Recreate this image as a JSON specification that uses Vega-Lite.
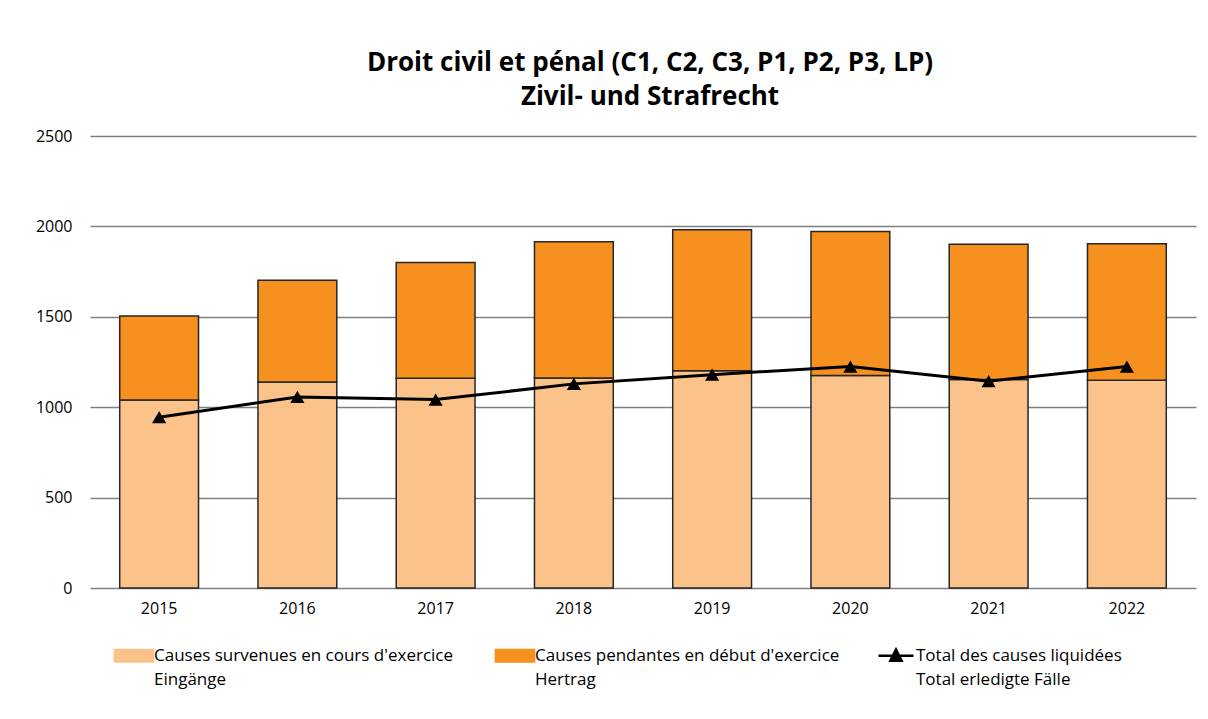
{
  "$schema": "https://vega.github.io/schema/vega-lite/v6.json",
  "width": 1106,
  "height": 452,
  "autosize": {"type": "none"},
  "padding": {"left": 90, "top": 136, "right": 12, "bottom": 131},
  "background": "white",
  "title": {
    "text": ["Droit civil et pénal (C1, C2, C3, P1, P2, P3, LP)", "Zivil- und Strafrecht"],
    "font": "Open Sans",
    "fontSize": 26,
    "fontWeight": "bold",
    "color": "black",
    "anchor": "middle",
    "offset": 18,
    "lineHeight": 34,
    "dx": 7
  },
  "datasets": {
    "bars": [
      {"year": "2015", "series": "Causes survenues en cours d'exercice|Eingänge", "idx": 1, "value": 1040},
      {"year": "2015", "series": "Causes pendantes en début d'exercice|Hertrag", "idx": 2, "value": 464},
      {"year": "2016", "series": "Causes survenues en cours d'exercice|Eingänge", "idx": 1, "value": 1140},
      {"year": "2016", "series": "Causes pendantes en début d'exercice|Hertrag", "idx": 2, "value": 562},
      {"year": "2017", "series": "Causes survenues en cours d'exercice|Eingänge", "idx": 1, "value": 1160},
      {"year": "2017", "series": "Causes pendantes en début d'exercice|Hertrag", "idx": 2, "value": 641},
      {"year": "2018", "series": "Causes survenues en cours d'exercice|Eingänge", "idx": 1, "value": 1162},
      {"year": "2018", "series": "Causes pendantes en début d'exercice|Hertrag", "idx": 2, "value": 753},
      {"year": "2019", "series": "Causes survenues en cours d'exercice|Eingänge", "idx": 1, "value": 1201},
      {"year": "2019", "series": "Causes pendantes en début d'exercice|Hertrag", "idx": 2, "value": 781},
      {"year": "2020", "series": "Causes survenues en cours d'exercice|Eingänge", "idx": 1, "value": 1175},
      {"year": "2020", "series": "Causes pendantes en début d'exercice|Hertrag", "idx": 2, "value": 797},
      {"year": "2021", "series": "Causes survenues en cours d'exercice|Eingänge", "idx": 1, "value": 1153},
      {"year": "2021", "series": "Causes pendantes en début d'exercice|Hertrag", "idx": 2, "value": 748},
      {"year": "2022", "series": "Causes survenues en cours d'exercice|Eingänge", "idx": 1, "value": 1149},
      {"year": "2022", "series": "Causes pendantes en début d'exercice|Hertrag", "idx": 2, "value": 755}
    ],
    "line": [
      {"year": "2015", "series": "Total des causes liquidées|Total erledigte Fälle", "value": 945},
      {"year": "2016", "series": "Total des causes liquidées|Total erledigte Fälle", "value": 1057},
      {"year": "2017", "series": "Total des causes liquidées|Total erledigte Fälle", "value": 1042},
      {"year": "2018", "series": "Total des causes liquidées|Total erledigte Fälle", "value": 1129},
      {"year": "2019", "series": "Total des causes liquidées|Total erledigte Fälle", "value": 1180},
      {"year": "2020", "series": "Total des causes liquidées|Total erledigte Fälle", "value": 1225},
      {"year": "2021", "series": "Total des causes liquidées|Total erledigte Fälle", "value": 1144},
      {"year": "2022", "series": "Total des causes liquidées|Total erledigte Fälle", "value": 1225}
    ]
  },
  "config": {
    "view": {"stroke": null},
    "font": "Open Sans",
    "style": {"guide-label": {"lineHeight": 24}}
  },
  "layer": [
    {
      "data": {"name": "bars"},
      "mark": {"type": "bar", "stroke": "#262626", "strokeWidth": 1.5},
      "encoding": {
        "x": {
          "field": "year", "type": "nominal",
          "scale": {"paddingInner": 0.43, "paddingOuter": 0.215},
          "axis": {"title": null, "labelAngle": 0, "labelFont": "Open Sans", "labelFontSize": 16, "labelColor": "black", "labelPadding": 12, "domain": false, "ticks": false, "grid": false}
        },
        "y": {
          "field": "value", "type": "quantitative", "stack": "zero",
          "scale": {"domain": [0, 2500], "nice": false},
          "axis": {"title": null, "values": [0, 500, 1000, 1500, 2000, 2500], "format": "d", "labelFont": "Open Sans", "labelFontSize": 16, "labelColor": "black", "labelPadding": 18, "domain": false, "ticks": false, "gridColor": "#808080", "gridWidth": 1.3}
        },
        "color": {
          "field": "series", "type": "nominal",
          "scale": {
            "domain": ["Causes survenues en cours d'exercice|Eingänge", "Causes pendantes en début d'exercice|Hertrag", "Total des causes liquidées|Total erledigte Fälle"],
            "range": ["#FBC38A", "#F6901E", "#000000"]
          },
          "legend": {
            "title": null,
            "orient": "none",
            "legendX": 35.5,
            "legendY": 511,
            "direction": "horizontal",
            "columns": 3,
            "gridAlign": "all",
            "columnPadding": 33,
            "padding": 0,
            "labelFont": "Open Sans",
            "labelFontSize": 17,
            "labelColor": "black",
            "labelLimit": 400,
            "labelOffset": 11.5,
            "labelExpr": "split(datum.label, '|')",
            "symbolSize": 784,
            "symbolOpacity": 1,
            "symbolType": {"expr": "datum.value === 'Total des causes liquidées|Total erledigte Fälle' ? 'M-1.25,0H1.25M-0.4,0.35L0,-0.45L0.4,0.35Z' : 'M-1.4,-0.45H1.4V0.45H-1.4Z'"},
            "symbolStrokeColor": {"expr": "datum.value === 'Total des causes liquidées|Total erledigte Fälle' ? '#000000' : '#262626'"},
            "symbolStrokeWidth": {"expr": "datum.value === 'Total des causes liquidées|Total erledigte Fälle' ? 2.5 : 1.5"}
          }
        },
        "order": {"field": "idx", "type": "quantitative"}
      }
    },
    {
      "data": {"name": "line"},
      "mark": {"type": "line", "strokeWidth": 3, "point": {"shape": "triangle-up", "size": 200, "filled": true, "opacity": 1}},
      "encoding": {
        "x": {"field": "year", "type": "nominal"},
        "y": {"field": "value", "type": "quantitative"},
        "color": {"field": "series", "type": "nominal"}
      }
    }
  ]
}
